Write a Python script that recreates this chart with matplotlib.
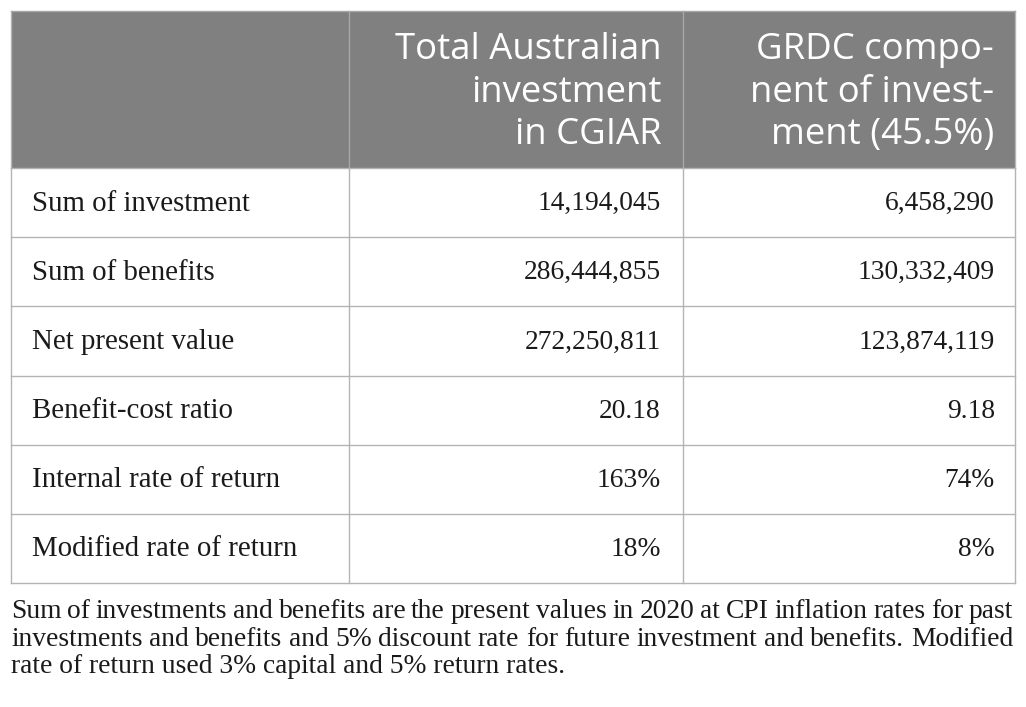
import matplotlib
matplotlib.use("Agg")
import matplotlib.pyplot as plt
from matplotlib.patches import Rectangle

# table content
row_labels = ["Sum of investment", "Sum of benefits", "Net present value",
              "Benefit-cost ratio", "Internal rate of return", "Modified rate of return"]
total_investment = ["14,194,045", "286,444,855", "272,250,811", "20.18", "163%", "18%"]
grdc_component = ["6,458,290", "130,332,409", "123,874,119", "9.18", "74%", "8%"]
col_headers = ["Total Australian\ninvestment\nin CGIAR",
               "GRDC compo-\nnent of invest-\nment (45.5%)"]
footnote_lines = [
    "Sum of investments and benefits are the present values in 2020 at CPI inflation rates for past",
    "investments and benefits and 5% discount rate for future investment and benefits. Modified",
    "rate of return used 3% capital and 5% return rates.",
]

W, H = 1026, 707
fig = plt.figure(figsize=(W / 100, H / 100), dpi=100)
ax = fig.add_axes([0, 0, 1, 1])
ax.set_xlim(0, W)
ax.set_ylim(H, 0)
ax.axis("off")

serif = "Liberation Serif"
sans = "Open Sans"
txt_col = "#1a1a1a"
line_col = "#b4b4b4"
label_fs = 20.8
num_fs = 19.8
foot_fs = 19.8

col_x = [11, 349, 683, 1015]
top, head_bot, bot = 11, 168, 583
row_h = (bot - head_bot) / len(row_labels)

# header band
ax.add_patch(Rectangle((col_x[0], top), col_x[-1] - col_x[0], head_bot - top,
                       facecolor="#808080", edgecolor="none"))
for i, h in enumerate(col_headers):
    ax.text(col_x[i + 2] - 21, (top + head_bot) / 2 + 3, h, ha="right", va="center",
            color="white", fontsize=26.3, family=sans, linespacing=1.23,
            multialignment="right")

# grid lines
for x in col_x:
    c = "#a8a8a8" if x in (col_x[1], col_x[2]) else line_col
    ax.plot([x, x], [top, head_bot], color=c, lw=1.0)
    ax.plot([x, x], [head_bot, bot], color=line_col, lw=1.0)
ax.plot([col_x[0], col_x[-1]], [top, top], color="#a8a8a8", lw=1.0)
for r in range(len(row_labels) + 1):
    y = head_bot + r * row_h
    ax.plot([col_x[0], col_x[-1]], [y, y], color=line_col, lw=1.0)

# body
for r, lab in enumerate(row_labels):
    yc = head_bot + (r + 0.5) * row_h + 1
    ax.text(32, yc, lab, ha="left", va="center", fontsize=label_fs, family=serif, color=txt_col)
    ax.text(col_x[2] - 22, yc, total_investment[r], ha="right", va="center",
            fontsize=num_fs, family=serif, color=txt_col)
    ax.text(col_x[3] - 20, yc, grdc_component[r], ha="right", va="center",
            fontsize=num_fs, family=serif, color=txt_col)

# footnote, justified
fig.canvas.draw()
renderer = fig.canvas.get_renderer()
foot_y = [618, 646, 673]
x0, x1 = 11, 1013
for i, line in enumerate(footnote_lines):
    words = line.split(" ")
    if i == len(footnote_lines) - 1:
        ax.text(x0, foot_y[i], line, ha="left", va="baseline", fontsize=foot_fs,
                family=serif, color=txt_col)
        continue
    arts, widths = [], []
    for w in words:
        t = ax.text(0, foot_y[i], w, ha="left", va="baseline", fontsize=foot_fs,
                    family=serif, color=txt_col)
        widths.append(t.get_window_extent(renderer).width)
        arts.append(t)
    gap = ((x1 - x0) - sum(widths)) / (len(words) - 1)
    x = x0
    for t, wd in zip(arts, widths):
        t.set_x(x)
        x += wd + gap

fig.savefig("out.png", dpi=100, facecolor="white")
